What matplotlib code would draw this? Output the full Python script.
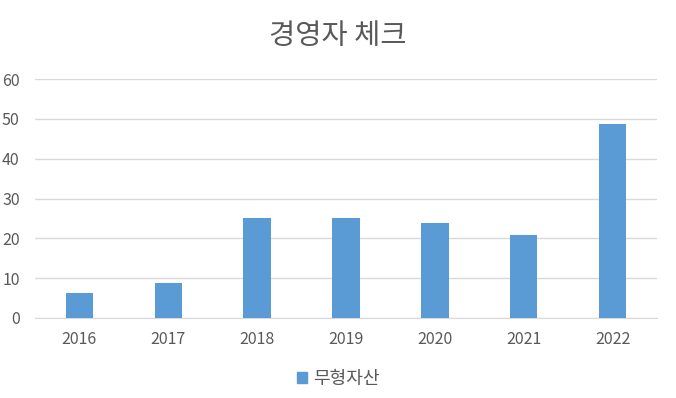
import matplotlib
matplotlib.use("Agg")
import matplotlib.pyplot as plt
from matplotlib.patches import Patch

plt.rcParams['font.family'] = ['Noto Sans CJK KR', 'DejaVu Sans']

years = ["2016", "2017", "2018", "2019", "2020", "2021", "2022"]
values = [6.3, 8.9, 25, 25, 23.9, 20.8, 48.8]
series_name = "무형자산"
title = "경영자 체크"

bar_color = "#5B9BD5"
text_color = "#595959"
grid_color = "#D9D9D9"

fig = plt.figure(figsize=(6.76, 3.98), dpi=100)
ax = fig.add_axes([35/676, 1-318/398, 622/676, (318-79)/398])
x = range(len(years))
ax.bar(x, values, width=0.31, color=bar_color, zorder=3)
ax.set_xlim(-0.5, len(years)-0.5)
ax.set_ylim(0, 60)
ax.set_yticks(range(0, 61, 10))
ax.set_xticks(list(x))
ax.set_xticklabels(years)
ax.grid(axis='y', color=grid_color, linewidth=1, zorder=0)
for s in ['top', 'right', 'left']:
    ax.spines[s].set_visible(False)
ax.spines['bottom'].set_color(grid_color)
ax.tick_params(axis='both', length=0, labelsize=11.5, colors=text_color)
ax.tick_params(axis='x', pad=9)
ax.tick_params(axis='y', pad=11)

fig.text(0.5, 1-36/398, title, ha='center', va='center', fontsize=20.5, color=text_color)
fig.legend(handles=[Patch(color=bar_color, label=series_name)], loc='center',
           bbox_to_anchor=(0.5, 1-379/398), frameon=False, fontsize=13,
           labelcolor=text_color, handlelength=0.6, handleheight=0.6, handletextpad=0.3)

fig.savefig("out.png", dpi=100)
